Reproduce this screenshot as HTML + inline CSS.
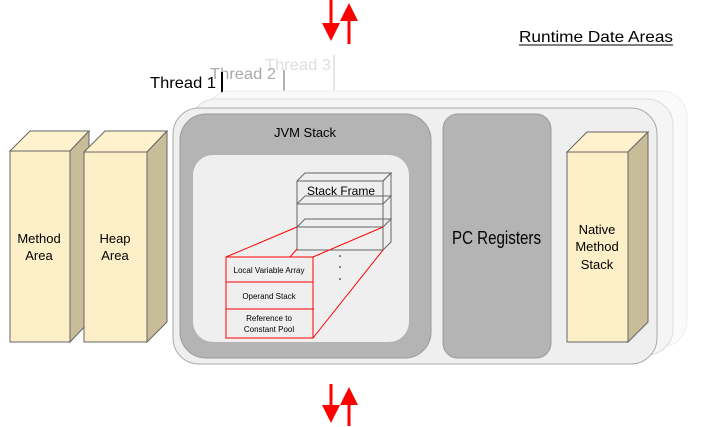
<!DOCTYPE html>
<html><head><style>body{margin:0;background:#fff}svg{display:block}text{font-family:"Liberation Sans",sans-serif}</style></head><body>
<svg width="712" height="427" viewBox="0 0 712 427" xmlns="http://www.w3.org/2000/svg">
<defs><marker id="ah" markerWidth="6" markerHeight="6" refX="3" refY="3" orient="auto" markerUnits="strokeWidth"><path d="M0,0 L6,3 L0,6 z" fill="#f00"/></marker></defs>
<line x1="331" y1="0" x2="331" y2="32" stroke="#f00" stroke-width="3" marker-end="url(#ah)"/>
<line x1="349" y1="44" x2="349" y2="12" stroke="#f00" stroke-width="3" marker-end="url(#ah)"/>
<line x1="331" y1="384" x2="331" y2="414" stroke="#f00" stroke-width="3" marker-end="url(#ah)"/>
<line x1="349" y1="426" x2="349" y2="396" stroke="#f00" stroke-width="3" marker-end="url(#ah)"/>
<text x="519" y="42" font-size="16" fill="#000" textLength="154" lengthAdjust="spacingAndGlyphs">Runtime Date Areas</text>
<line x1="519" y1="45" x2="673" y2="45" stroke="#000" stroke-width="1"/>
<text x="265" y="70" font-size="16" fill="#ddd" textLength="66" lengthAdjust="spacingAndGlyphs">Thread 3</text>
<line x1="334" y1="55" x2="334" y2="91" stroke="#ddd" stroke-width="1.5"/>
<text x="210" y="79" font-size="16" fill="#aaa" textLength="66" lengthAdjust="spacingAndGlyphs">Thread 2</text>
<line x1="284" y1="70" x2="284" y2="99" stroke="#999" stroke-width="1.5"/>
<text x="150" y="88" font-size="16" fill="#000" textLength="66" lengthAdjust="spacingAndGlyphs">Thread 1</text>
<line x1="222" y1="72" x2="222" y2="108" stroke="#000" stroke-width="2"/>
<rect x="205" y="91" width="482" height="256" rx="26" fill="#fafafa" stroke="#eee"/>
<rect x="190" y="99" width="483" height="256" rx="26" fill="#f5f5f5" stroke="#ddd"/>
<rect x="643" y="122" width="10" height="200" fill="#f0eee8" stroke="#ddd"/>
<rect x="173" y="108" width="484" height="256" rx="26" fill="#efefef" stroke="#aaa"/>
<rect x="180" y="114" width="251" height="244" rx="26" fill="#b4b4b4" stroke="#9a9a9a"/>
<text x="305" y="137" font-size="13" text-anchor="middle">JVM Stack</text>
<rect x="193" y="155" width="216" height="187" rx="20" fill="#efefef"/>
<rect x="443" y="114" width="108" height="244" rx="15" fill="#b4b4b4" stroke="#9a9a9a"/>
<text x="452" y="244" font-size="18" textLength="89" lengthAdjust="spacingAndGlyphs">PC Registers</text>
<path d="M567,152 L587,132 L648,132 L628,152 z" fill="#fff2cc" stroke="#666"/>
<path d="M628,152 L648,132 L648,322 L628,342 z" fill="#c9bc99" stroke="#666"/>
<rect x="567" y="152" width="61" height="190" fill="#fdefc7" stroke="#666"/>
<text font-size="13" text-anchor="middle"><tspan x="597" y="234">Native</tspan><tspan x="597" y="251">Method</tspan><tspan x="597" y="269">Stack</tspan></text>
<path d="M10,151 L30,131 L89,131 L70,151 z" fill="#fff2cc" stroke="#666"/>
<path d="M70,151 L89,131 L89,322 L70,342 z" fill="#c9bc99" stroke="#666"/>
<rect x="10" y="151" width="60" height="191" fill="#fdefc7" stroke="#666"/>
<text font-size="13" text-anchor="middle"><tspan x="39" y="243">Method</tspan><tspan x="39" y="260">Area</tspan></text>
<path d="M84,152 L105,131 L167,131 L147,152 z" fill="#fff2cc" stroke="#666"/>
<path d="M147,152 L167,131 L167,322 L147,342 z" fill="#c9bc99" stroke="#666"/>
<rect x="84" y="152" width="63" height="190" fill="#fdefc7" stroke="#666"/>
<text font-size="13" text-anchor="middle"><tspan x="115" y="243">Heap</tspan><tspan x="115" y="260">Area</tspan></text>
<g fill="none" stroke="#666">
<path d="M297,181 L305,173 L391,173 L383,181"/>
<path d="M297,204 L305,196 L391,196 L383,204"/>
<path d="M297,227 L305,219 L391,219 L383,227"/>
<path d="M383,181 L391,173 L391,242 L383,250"/>
<rect x="297" y="181" width="86" height="69"/>
<line x1="297" y1="204" x2="383" y2="204"/>
<line x1="297" y1="227" x2="383" y2="227"/>
</g>
<text x="341" y="195" font-size="12" text-anchor="middle">Stack Frame</text>
<g fill="#000"><circle cx="340" cy="256" r="0.8"/><circle cx="340" cy="267" r="0.8"/><circle cx="340" cy="279" r="0.8"/></g>
<g stroke="#f00" fill="none">
<line x1="226" y1="257" x2="297" y2="227"/>
<line x1="290" y1="257" x2="297" y2="249"/>
<line x1="313" y1="257" x2="383" y2="227"/>
<line x1="313" y1="338" x2="383" y2="250"/>
<rect x="226" y="257" width="87" height="81" fill="#efefef"/>
<line x1="226" y1="282" x2="313" y2="282"/>
<line x1="226" y1="309" x2="314" y2="309"/>
</g>
<g font-size="8" text-anchor="middle"><text x="269" y="273">Local Variable Array</text><text x="269" y="299">Operand Stack</text><text x="269" y="321">Reference to</text><text x="269" y="332">Constant Pool</text></g>
</svg>
</body></html>
